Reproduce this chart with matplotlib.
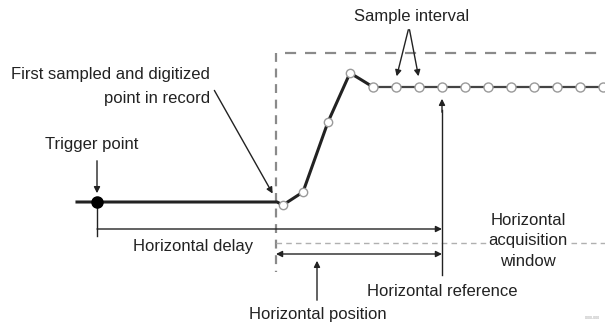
import matplotlib.pyplot as plt

plt.rcParams['font.family'] = ['Liberation Sans', 'DejaVu Sans']

# waveform record, in picture pixels (x right, y down)
trace_x = [77, 277, 283, 303, 328, 350, 360, 373]
trace_y = [202, 202, 205, 192, 122, 73, 79, 87]
rise_x = [283, 303, 328, 350]
rise_y = [205, 192, 122, 73]
sample_x = [373, 396, 419, 442, 465, 488, 511, 534, 557, 580, 603]
sample_level = 87

trigger_x = 97
trigger_y = 202
window_left = 276
window_top = 53
reference_x = 442

ink = '#222222'
grey = '#8a8a8a'
fs = 12

fig = plt.figure(figsize=(6.05, 3.24), dpi=100)
ax = fig.add_axes([0, 0, 1, 1])
ax.set_xlim(0, 605)
ax.set_ylim(324, 0)
ax.axis('off')

# acquisition window (dashed)
ax.plot([window_left, window_left], [window_top, 272], ls=(0, (4, 3)), color=grey, lw=1.6)
ax.plot([285, 605], [window_top, window_top], ls=(0, (5, 4)), color=grey, lw=1.6)
ax.plot([window_left, 486], [243, 243], ls=(0, (4, 3)), color='#b0b0b0', lw=1.0)
ax.plot([571, 605], [243, 243], ls=(0, (4, 3)), color='#b0b0b0', lw=1.0)

# the trace
ax.plot(trace_x, trace_y, color=ink, lw=2.2, zorder=3)
ax.plot(rise_x, rise_y, 'o', ms=6, mfc='white', mec='#9a9a9a', mew=1.0, zorder=4)
ax.plot([sample_x[0], sample_x[-1]], [sample_level] * 2, color='#444444', lw=1.6, zorder=3)
ax.plot(sample_x, [sample_level] * len(sample_x), 'o', ms=6.5, mfc='white',
        mec='#9a9a9a', mew=1.0, zorder=4)

# trigger point
ax.plot(trigger_x, trigger_y, 'o', ms=8, color='black', zorder=5)
ax.plot([trigger_x, trigger_x], [trigger_y, 236], color=ink, lw=1.0)
ax.annotate('', xy=(trigger_x, 196), xytext=(trigger_x, 158),
            arrowprops=dict(arrowstyle='-|>', color=ink, lw=1.0, mutation_scale=9))
ax.text(trigger_x - 5, 145, 'Trigger point', ha='center', va='center', fontsize=fs, color=ink)

# first sampled point
ax.annotate('', xy=(274, 196), xytext=(213, 88),
            arrowprops=dict(arrowstyle='-|>', color=ink, lw=1.0, mutation_scale=9))
ax.text(210, 75, 'First sampled and digitized', ha='right', va='center', fontsize=fs, color=ink)
ax.text(210, 98, 'point in record', ha='right', va='center', fontsize=fs, color=ink)

# sample interval
ax.text(412, 17, 'Sample interval', ha='center', va='center', fontsize=fs, color=ink)
for tip in (sample_x[1], sample_x[2]):
    ax.annotate('', xy=(tip, 79), xytext=(409, 27),
                arrowprops=dict(arrowstyle='-|>', color=ink, lw=1.0, mutation_scale=9))

# horizontal reference
ax.plot([reference_x, reference_x], [110, 275], color=ink, lw=1.0)
ax.annotate('', xy=(reference_x, 96), xytext=(reference_x, 115),
            arrowprops=dict(arrowstyle='-|>', color=ink, lw=1.0, mutation_scale=9))
ax.text(reference_x, 292, 'Horizontal reference', ha='center', va='center', fontsize=fs, color=ink)

# horizontal delay
ax.annotate('', xy=(reference_x, 229), xytext=(trigger_x, 229),
            arrowprops=dict(arrowstyle='-|>', color=ink, lw=1.0, mutation_scale=9,
                            shrinkA=0, shrinkB=0))
ax.text(193, 246, 'Horizontal delay', ha='center', va='center', fontsize=fs, color=ink)

# horizontal position
ax.annotate('', xy=(reference_x, 254), xytext=(window_left, 254),
            arrowprops=dict(arrowstyle='<|-|>', color=ink, lw=1.0, mutation_scale=9,
                            shrinkA=0, shrinkB=0))
ax.annotate('', xy=(317, 258), xytext=(317, 303),
            arrowprops=dict(arrowstyle='-|>', color=ink, lw=1.0, mutation_scale=9))
ax.text(318, 315, 'Horizontal position', ha='center', va='center', fontsize=fs, color=ink)

# acquisition window label
ax.text(528, 241, 'Horizontal\nacquisition\nwindow', ha='center', va='center',
        fontsize=fs, color=ink, linespacing=1.45)

ax.text(592, 318, '0000-000', ha='center', va='center', fontsize=2.5, color='#999999')

fig.savefig('out.png', dpi=100, facecolor='white')
